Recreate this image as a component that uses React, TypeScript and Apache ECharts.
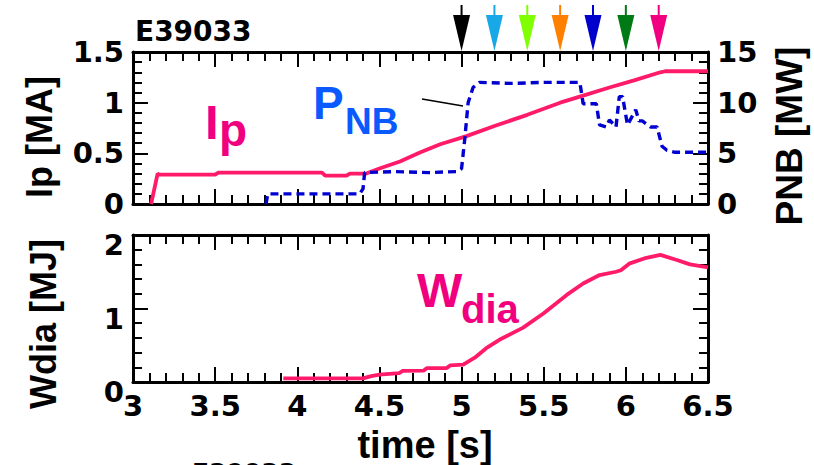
import React, { useEffect, useRef } from "react";
import * as echarts from "echarts";

// Plasma current Ip [MA]
const ipT = [3.11, 3.15, 3.16, 3.5, 3.52, 4.15, 4.17, 4.3, 4.32, 4.42, 4.5, 4.625, 4.75, 4.87, 5.03, 5.2, 5.4, 5.6, 5.74, 5.9, 6.05, 6.21, 6.24, 6.5];
const ipV = [0, 0.3, 0.29, 0.29, 0.31, 0.31, 0.28, 0.28, 0.3, 0.3, 0.35, 0.42, 0.51, 0.59, 0.67, 0.77, 0.88, 1.0, 1.07, 1.15, 1.22, 1.3, 1.31, 1.31];

// NB power PNB [MW]
const pnbT = [3.81, 3.82, 4.38, 4.4, 4.41, 4.6, 4.8, 4.97, 5.0, 5.02, 5.04, 5.07, 5.11, 5.3, 5.5, 5.72, 5.74, 5.82, 5.84, 5.88, 5.9, 5.94, 5.96, 5.98, 6.01, 6.06, 6.08, 6.1, 6.15, 6.19, 6.22, 6.25, 6.3, 6.5];
const pnbV = [0, 1.0, 1.0, 1.5, 3.1, 3.2, 3.1, 3.2, 3.5, 6.5, 10.0, 11.5, 12.0, 11.9, 12.0, 12.0, 9.9, 9.9, 7.8, 7.6, 8.3, 7.6, 10.6, 10.6, 7.8, 9.3, 8.2, 8.2, 7.6, 7.6, 5.7, 5.3, 5.1, 5.1];

// Diamagnetic energy Wdia [MJ]
const wT = [3.915, 4.4, 4.45, 4.5, 4.62, 4.64, 4.77, 4.79, 4.91, 4.93, 5.01, 5.08, 5.15, 5.23, 5.375, 5.5, 5.64, 5.74, 5.84, 5.94, 5.97, 6.02, 6.125, 6.21, 6.31, 6.39, 6.5];
const wV = [0.05, 0.05, 0.08, 0.1, 0.12, 0.15, 0.155, 0.19, 0.19, 0.225, 0.235, 0.33, 0.46, 0.574, 0.74, 0.935, 1.185, 1.34, 1.455, 1.5, 1.52, 1.61, 1.69, 1.73, 1.66, 1.6, 1.56];

// Time markers (arrows)
const arrowT = [5.0, 5.2, 5.4, 5.6, 5.8, 6.0, 6.2];
const arrowColors = ["#000000", "#18a8e8", "#80ff00", "#ff8000", "#0000cc", "#007a14", "#f00080"];

const shotLabel = "E39033";
const xName = "time [s]";

const PINK = "#ff1a6a";
const PINK_TXT = "#f0007f";
const BLUE_LINE = "#0000d0";
const BLUE_TXT = "#0a5aff";
const TICK_FONT = "DejaVu Sans";
const NAME_FONT = "Liberation Sans";

const zip = (a: number[], b: number[]) => a.map((t, i) => [t, b[i]]);

export default function App() {
  const ref = useRef<HTMLDivElement>(null);
  useEffect(() => {
    document.body.style.margin = "0";
    const chart = echarts.init(ref.current!, null, { renderer: "svg" });

    const labelStyle = {
      color: "#000",
      fontFamily: TICK_FONT,
      fontWeight: "bold" as const,
      fontSize: 29,
    };
    const xAx = (gridIndex: number, position: string, show: boolean) => ({
      type: "value",
      gridIndex,
      position,
      min: 3,
      max: 6.5,
      interval: 0.5,
      axisLine: { show: true, onZero: false, lineStyle: { color: "#000", width: 3 } },
      axisTick: { show: true, inside: true, length: 15, lineStyle: { color: "#000", width: 2 } },
      minorTick: { show: true, splitNumber: 5, length: 9, lineStyle: { color: "#000", width: 2 } },
      splitLine: { show: false },
      minorSplitLine: { show: false },
      axisLabel: { show, margin: 9, ...labelStyle },
    });
    const yAx = (
      gridIndex: number,
      position: string,
      max: number,
      interval: number,
      show: boolean,
      extra: any = {}
    ) => ({
      type: "value",
      gridIndex,
      position,
      min: 0,
      max,
      interval,
      axisLine: { show: true, onZero: false, lineStyle: { color: "#000", width: 3 } },
      axisTick: { show: true, inside: true, length: 15, lineStyle: { color: "#000", width: 2 } },
      minorTick: { show: true, splitNumber: 5, length: 9, lineStyle: { color: "#000", width: 2 } },
      splitLine: { show: false },
      minorSplitLine: { show: false },
      axisLabel: { show, margin: 9, ...labelStyle, ...extra },
    });

    chart.setOption({
      animation: false,
      backgroundColor: "#fff",
      grid: [
        { left: 133, top: 52, width: 575, height: 152 },
        { left: 133, top: 235, width: 575, height: 147 },
      ],
      xAxis: [xAx(0, "bottom", false), xAx(0, "top", false), xAx(1, "bottom", true), xAx(1, "top", false)],
      yAxis: [
        yAx(0, "left", 1.5, 0.5, true),
        yAx(0, "right", 15, 5, true),
        yAx(1, "left", 2, 1, true, { verticalAlign: "top", lineHeight: 20 }),
        yAx(1, "right", 2, 1, false),
      ],
      series: [
        {
          type: "line",
          xAxisIndex: 0,
          yAxisIndex: 0,
          data: zip(ipT, ipV),
          showSymbol: false,
          lineStyle: { color: PINK, width: 3.8 },
          z: 3,
        },
        {
          type: "line",
          xAxisIndex: 0,
          yAxisIndex: 1,
          data: zip(pnbT, pnbV),
          showSymbol: false,
          lineStyle: { color: BLUE_LINE, width: 3.4, type: [8, 5] },
          z: 4,
        },
        {
          type: "line",
          xAxisIndex: 2,
          yAxisIndex: 2,
          data: zip(wT, wV),
          showSymbol: false,
          lineStyle: { color: PINK, width: 3.8 },
          z: 3,
        },
        {
          type: "custom",
          xAxisIndex: 0,
          yAxisIndex: 0,
          clip: false,
          silent: true,
          z: 10,
          data: arrowT.map((t) => [t, 1.5]),
          renderItem: (params: any, api: any) => {
            const p = api.coord([api.value(0), api.value(1)]);
            const c = arrowColors[params.dataIndex];
            return {
              type: "group",
              children: [
                {
                  type: "line",
                  shape: { x1: p[0], y1: p[1] - 47, x2: p[0], y2: p[1] - 35 },
                  style: { stroke: c, lineWidth: 2 },
                },
                {
                  type: "polygon",
                  shape: {
                    points: [
                      [p[0] - 8.5, p[1] - 37],
                      [p[0] + 8.5, p[1] - 37],
                      [p[0], p[1] - 1],
                    ],
                  },
                  style: { fill: c },
                },
              ],
            };
          },
        },
      ],
      graphic: [
        {
          type: "text",
          x: 135,
          y: 31,
          style: { text: shotLabel, fill: "#000", font: `bold 28px "${TICK_FONT}"`, textAlign: "left", textVerticalAlign: "middle" },
        },
        {
          type: "text",
          x: 192,
          y: 472,
          style: { text: shotLabel, fill: "#000", font: `bold 25px "${TICK_FONT}"`, textAlign: "left", textVerticalAlign: "middle" },
        },
        {
          type: "text",
          x: 39,
          y: 137,
          rotation: Math.PI / 2,
          style: { text: "Ip [MA]", fill: "#000", font: `bold 36px "${NAME_FONT}"`, textAlign: "center", textVerticalAlign: "middle" },
        },
        {
          type: "text",
          x: 789,
          y: 136,
          rotation: Math.PI / 2,
          style: { text: "PNB [MW]", fill: "#000", font: `bold 37px "${NAME_FONT}"`, textAlign: "center", textVerticalAlign: "middle" },
        },
        {
          type: "text",
          x: 43,
          y: 324,
          rotation: Math.PI / 2,
          style: { text: "Wdia [MJ]", fill: "#000", font: `bold 36px "${NAME_FONT}"`, textAlign: "center", textVerticalAlign: "middle" },
        },
        {
          type: "text",
          x: 425,
          y: 445,
          style: { text: xName, fill: "#000", font: `bold 38px "${NAME_FONT}"`, textAlign: "center", textVerticalAlign: "middle" },
        },
        {
          type: "text",
          x: 205,
          y: 122,
          style: { text: "I", fill: PINK_TXT, font: `bold 49px "${NAME_FONT}"`, textAlign: "left", textVerticalAlign: "middle" },
        },
        {
          type: "text",
          x: 219,
          y: 130,
          style: { text: "p", fill: PINK_TXT, font: `bold 46px "${NAME_FONT}"`, textAlign: "left", textVerticalAlign: "middle" },
        },
        {
          type: "text",
          x: 313,
          y: 103,
          style: { text: "P", fill: BLUE_TXT, font: `bold 46px "${NAME_FONT}"`, textAlign: "left", textVerticalAlign: "middle" },
        },
        {
          type: "text",
          x: 345,
          y: 121,
          style: { text: "NB", fill: BLUE_TXT, font: `bold 37px "${NAME_FONT}"`, textAlign: "left", textVerticalAlign: "middle" },
        },
        {
          type: "text",
          x: 417,
          y: 290,
          style: { text: "W", fill: PINK_TXT, font: `bold 48px "${NAME_FONT}"`, textAlign: "left", textVerticalAlign: "middle" },
        },
        {
          type: "text",
          x: 461,
          y: 309,
          style: { text: "dia", fill: PINK_TXT, font: `bold 40px "${NAME_FONT}"`, textAlign: "left", textVerticalAlign: "middle" },
        },
        {
          type: "line",
          shape: { x1: 422, y1: 99, x2: 463, y2: 106 },
          style: { stroke: "#000", lineWidth: 1.6 },
        },
      ],
    });
    return () => chart.dispose();
  }, []);
  return <div ref={ref} style={{ width: 814, height: 465 }} />;
}
